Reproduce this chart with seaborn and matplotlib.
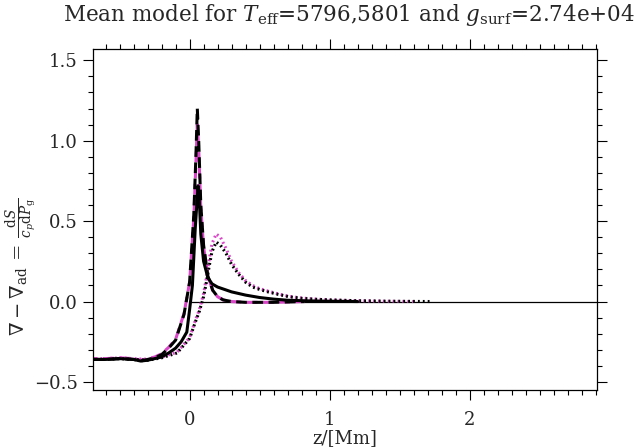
import numpy as np
import pandas as pd
import matplotlib
matplotlib.use("Agg")
import matplotlib.pyplot as plt
import seaborn as sns
from matplotlib.ticker import MultipleLocator

# ---- data ----
z_solid = [-0.69, -0.6, -0.5, -0.4, -0.35, -0.3, -0.25, -0.2, -0.15, -0.1, -0.06, -0.02,
           0.0, 0.02, 0.04, 0.06, 0.07, 0.08, 0.1, 0.13, 0.16, 0.2, 0.25, 0.3, 0.4, 0.5,
           0.6, 0.7, 0.85, 1.0, 1.2]
v_solid = [-0.36, -0.36, -0.355, -0.36, -0.37, -0.365, -0.355, -0.345, -0.32, -0.29, -0.25, -0.19,
           -0.05, 0.1, 0.45, 0.72, 0.62, 0.42, 0.25, 0.15, 0.11, 0.09, 0.075, 0.06, 0.04, 0.025,
           0.015, 0.008, 0.004, 0.002, 0.0]

z_dash = [-0.69, -0.6, -0.5, -0.4, -0.35, -0.3, -0.25, -0.2, -0.15, -0.1, -0.04, 0.0, 0.03,
          0.045, 0.055, 0.065, 0.08, 0.1, 0.13, 0.165, 0.2, 0.24, 0.3, 0.4, 0.6, 0.82]
v_dash = [-0.36, -0.36, -0.355, -0.36, -0.37, -0.36, -0.35, -0.33, -0.29, -0.24, -0.08, 0.12, 0.54,
          0.9, 1.2, 1.0, 0.6, 0.35, 0.16, 0.07, 0.03, 0.01, 0.0, -0.005, -0.005, 0.0]

z_dash2 = [-0.69, -0.6, -0.5, -0.4, -0.35, -0.3, -0.25, -0.2, -0.15, -0.1, -0.04, 0.0, 0.03,
           0.045, 0.055, 0.065, 0.08, 0.1, 0.13, 0.165, 0.2, 0.24, 0.3, 0.4, 0.6, 0.82]
v_dash2 = [-0.355, -0.355, -0.35, -0.355, -0.365, -0.355, -0.345, -0.325, -0.285, -0.235, -0.075, 0.12, 0.52,
           0.86, 1.1, 0.95, 0.58, 0.34, 0.16, 0.07, 0.03, 0.01, 0.0, -0.005, -0.005, 0.0]

z_dot = [-0.69, -0.6, -0.5, -0.4, -0.3, -0.2, -0.09, 0.0, 0.04, 0.07, 0.1, 0.12, 0.14, 0.16,
         0.19, 0.22, 0.26, 0.3, 0.35, 0.4, 0.45, 0.5, 0.56, 0.63, 0.71, 0.8, 0.9, 1.0, 1.2,
         1.4, 1.73]
v_dot = [-0.36, -0.36, -0.355, -0.36, -0.365, -0.35, -0.32, -0.23, -0.13, -0.06, 0.03, 0.12, 0.22, 0.31,
         0.37, 0.35, 0.3, 0.23, 0.17, 0.12, 0.09, 0.075, 0.06, 0.045, 0.03, 0.02, 0.014, 0.01, 0.005,
         0.002, 0.0]

z_dot2 = [-0.69, -0.6, -0.5, -0.4, -0.3, -0.2, -0.09, 0.0, 0.04, 0.07, 0.1, 0.12, 0.14, 0.16,
          0.19, 0.22, 0.26, 0.3, 0.35, 0.4, 0.45, 0.5, 0.56, 0.63, 0.71, 0.8, 0.9, 1.0, 1.2,
          1.4, 1.6]
v_dot2 = [-0.355, -0.355, -0.35, -0.355, -0.36, -0.345, -0.315, -0.225, -0.12, -0.05, 0.05, 0.15, 0.26, 0.36,
          0.42, 0.4, 0.33, 0.25, 0.18, 0.13, 0.1, 0.08, 0.065, 0.048, 0.032, 0.022, 0.015, 0.01, 0.005,
          0.002, 0.0]

zero_z = [0.0, 2.91]
zero_v = [0.0, 0.0]

x_ticks = [0, 1, 2]
y_ticks = [-0.5, 0.0, 0.5, 1.0, 1.5]

# ---- style ----
sns.set_style("ticks")
plt.rcParams['font.family'] = ['DejaVu Serif']
plt.rcParams['mathtext.fontset'] = 'dejavuserif'

fig = plt.figure(figsize=(6.4, 4.48), dpi=100)
ax = fig.add_axes([93/640, 1-390/448, (597-93)/640, (390-49)/448])

def df(z, v):
    return pd.DataFrame({"z": z, "v": v})

BLACK = "black"
MAG = "#d946c8"
LW = 2.2
DASH = (0, (3.5, 1.8))
DASH_M = (2.0, (3.5, 1.8))
DOT = (0, (0.6, 1.0))
DOT_M = (0.8, (0.6, 1.0))

sns.lineplot(data=df(zero_z, zero_v), x="z", y="v", ax=ax, color=BLACK, lw=0.9, sort=False)
# second model (magenta)
sns.lineplot(data=df(z_dash2, v_dash2), x="z", y="v", ax=ax, color=MAG, lw=LW, sort=False)
ax.lines[-1].set_linestyle(DASH_M)
sns.lineplot(data=df(z_dot2, v_dot2), x="z", y="v", ax=ax, color=MAG, lw=LW, sort=False)
ax.lines[-1].set_linestyle(DOT_M)
# first model (black)
sns.lineplot(data=df(z_solid, v_solid), x="z", y="v", ax=ax, color=BLACK, lw=LW, sort=False)
sns.lineplot(data=df(z_dash, v_dash), x="z", y="v", ax=ax, color=BLACK, lw=LW, sort=False)
ax.lines[-1].set_linestyle(DASH)
sns.lineplot(data=df(z_dot, v_dot), x="z", y="v", ax=ax, color=BLACK, lw=LW, sort=False)
ax.lines[-1].set_linestyle(DOT)

ax.set_xlim(-0.69, 2.91)
ax.set_ylim(-0.55, 1.57)
ax.set_xticks(x_ticks)
ax.set_yticks(y_ticks)
ax.set_xticklabels([str(t) for t in x_ticks])
ax.set_yticklabels([f"{t:.1f}".replace("-", "\u2212") for t in y_ticks])
ax.xaxis.set_minor_locator(MultipleLocator(0.1))
ax.yaxis.set_minor_locator(MultipleLocator(0.1))
ax.tick_params(which='both', direction='out', top=True, right=True, color='black', width=0.8)
ax.tick_params(which='major', length=7, labelsize=13, pad=4)
ax.tick_params(which='minor', length=3.5)
ax.tick_params(axis='x', which='major', pad=8)
ax.tick_params(labeltop=False, labelright=False)
for s in ax.spines.values():
    s.set_visible(True)
    s.set_color('black')
    s.set_linewidth(0.9)

ax.set_xlabel("z/[Mm]", fontsize=13, labelpad=0)
ax.set_ylabel("")
fig.text(22/640, 1-267/448,
         r"$\nabla-\nabla_{\rm ad}\,=\,\frac{{\rm d}S}{c_p{\rm d}P_{\rm g}}$",
         fontsize=14, rotation=90, ha="center", va="center")
fig.suptitle(r"Mean model for $T_{\rm eff}$=5796,5801 and $g_{\rm surf}$=2.74e+04",
             x=0.545, y=0.995, fontsize=15.5)

fig.savefig("out.png", dpi=100)
